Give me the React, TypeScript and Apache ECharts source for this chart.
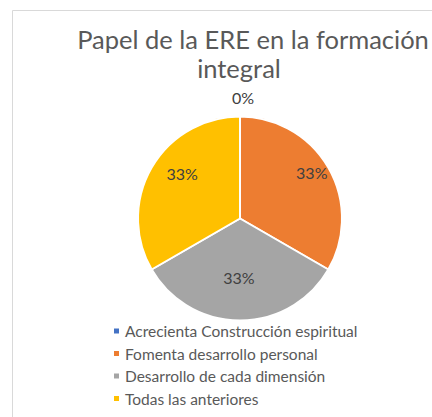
import React, { useEffect, useRef } from "react";
import * as echarts from "echarts";

const titleLines = ["Papel de la ERE en la formación", "integral"];
const categories = [
  "Acrecienta Construcción espiritual",
  "Fomenta desarrollo personal",
  "Desarrollo de cada dimensión",
  "Todas las anteriores",
];
const values = [0, 1, 1, 1];
const colors = ["#4472C4", "#ED7D31", "#A5A5A5", "#FFC000"];
const labelOffsets: [number, number][] = [
  [3, -67],
  [25, -19],
  [-1, 5],
  [-11, -18],
];
const titleLayout: [number, number][] = [
  [253, 24],
  [239, 53],
];

export default function App() {
  const ref = useRef<HTMLDivElement>(null);
  useEffect(() => {
    if (!ref.current) return;
    const chart = echarts.init(ref.current, undefined, { renderer: "svg" });
    chart.setOption({
      animation: false,
      backgroundColor: "#ffffff",
      color: colors,
      title: titleLines.map((t, i) => ({
        text: t,
        left: titleLayout[i][0],
        top: titleLayout[i][1],
        textAlign: "center",
        padding: 0,
        textStyle: {
          fontFamily: "Lato",
          fontSize: 25.5,
          fontWeight: "normal",
          color: "#595959",
          lineHeight: 30,
        },
      })),
      legend: {
        orient: "vertical",
        left: 112,
        top: 323,
        padding: 0,
        itemWidth: 7,
        itemHeight: 7,
        itemGap: 6.5,
        icon: "rect",
        textStyle: {
          fontFamily: "Lato",
          fontSize: 15.5,
          color: "#595959",
          lineHeight: 16,
        },
        data: categories,
      },
      graphic: [
        {
          type: "rect",
          shape: { x: 12.5, y: 10.5, width: 440, height: 440 },
          style: { fill: "none", stroke: "#d9d9d9", lineWidth: 1 },
          silent: true,
        },
      ],
      series: [
        {
          type: "pie",
          center: [240, 218.5],
          radius: [0, 102],
          startAngle: 90,
          clockwise: true,
          avoidLabelOverlap: false,
          itemStyle: { borderColor: "#ffffff", borderWidth: 2 },
          label: {
            show: true,
            position: "inside",
            fontFamily: "Lato",
            fontSize: 16,
            color: "#404040",
            formatter: (p: any) => Math.round(p.percent) + "%",
          },
          labelLine: { show: false },
          emphasis: { disabled: true },
          data: categories.map((name, i) => ({
            name,
            value: values[i],
            label: { offset: labelOffsets[i] },
          })),
        },
      ],
    });
    return () => chart.dispose();
  }, []);
  return (
    <div
      ref={ref}
      style={{ position: "fixed", left: 0, top: 0, width: 432, height: 417 }}
    />
  );
}
